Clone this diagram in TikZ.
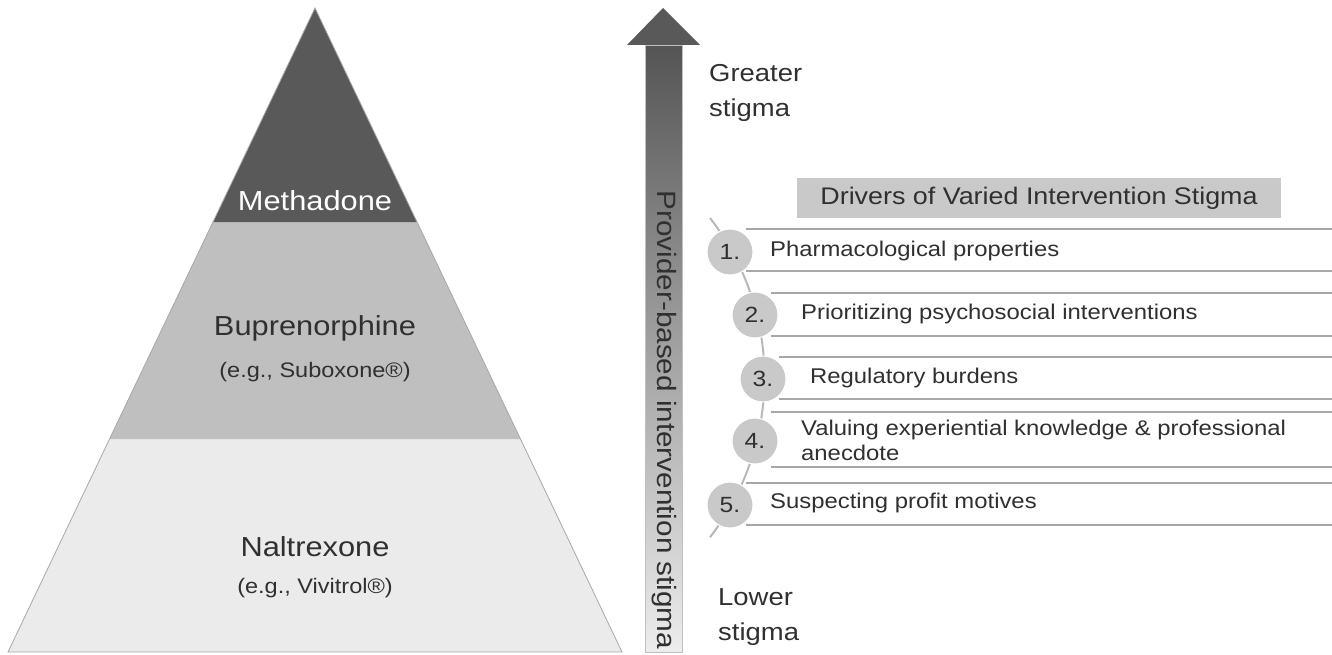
\documentclass[tikz,border=0pt]{standalone}
\usepackage{fontspec}
\setmainfont[FakeStretch=1.12]{Liberation Sans}
\usetikzlibrary{calc}
\definecolor{darkband}{HTML}{595959}
\definecolor{midband}{HTML}{BFBFBF}
\definecolor{lightband}{HTML}{EBEBEB}
\definecolor{txt}{HTML}{303030}
\definecolor{rowline}{HTML}{A8A8A8}
\definecolor{circfill}{HTML}{C9C9C9}
\definecolor{arcline}{HTML}{B8B8B8}
\tikzset{
  bigtxt/.style={font=\fontsize{27.5}{32}\selectfont, text=txt, inner sep=0pt},
  subtxt/.style={font=\fontsize{21}{25}\selectfont, text=txt, inner sep=0pt},
  itemtxt/.style={font=\fontsize{21.3}{25}\selectfont, text=txt, inner sep=0pt, anchor=west, align=left},
  sidetxt/.style={font=\fontsize{24.5}{35}\selectfont, text=txt, inner sep=0pt, anchor=west, align=left},
  numcirc/.style={circle, fill=circfill, draw=white, line width=1pt, minimum size=46pt, inner sep=0pt, font=\fontsize{22}{25}\selectfont, text=txt},
  rowedge/.style={draw=rowline, line width=1.3pt},
}
\begin{document}
\begin{tikzpicture}[x=1pt,y=-1pt]
\useasboundingbox (0,0) rectangle (1332,655);
% pyramid
\fill[lightband] (109.5,439) -- (520.5,439) -- (622,652) -- (8,652) -- cycle;
\fill[midband] (213,222) -- (417,222) -- (520.5,439) -- (109.5,439) -- cycle;
\fill[darkband] (315,8) -- (417,222) -- (213,222) -- cycle;
\draw[rowline, line width=0.8pt] (315,8) -- (622,652) -- (8,652) -- cycle;
\node[bigtxt, text=white] (meth) at (315,201) {Methadone};
\node[bigtxt] (bup) at (315,328) {Buprenorphine};
\node[subtxt] (bupsub) at (315,372) {(e.g., Suboxone®)};
\node[bigtxt] (nal) at (315,547) {Naltrexone};
\node[subtxt] (nalsub) at (315,588) {(e.g., Vivitrol®)};
% arrow
\shade[top color=darkband!95!black, bottom color=lightband!90!white] (645,45) rectangle (682,652);
\draw[midband, line width=0.6pt] (645,45) rectangle (682,652);
\fill[darkband] (663,8) -- (700,45) -- (627,45) -- cycle;
\node[font=\fontsize{26.5}{30}\selectfont, text=txt, rotate=-90, inner sep=0pt] (arrtxt) at (664,420) {Provider-based intervention stigma};
% side labels
\node[sidetxt] (greater) at (709,93) {Greater\\stigma};
\node[sidetxt] (lower) at (718,617) {Lower\\stigma};
% title
\node[fill=circfill, minimum width=484pt, minimum height=40pt, inner sep=0pt, font=\fontsize{24}{27}\selectfont, text=txt] (title) at (1039,198) {Drivers of Varied Intervention Stigma};
% rows
\foreach \cx/\top/\bot in {730/229/271, 755/293/336, 763/357/399, 755/412/467, 730/483/525}{
  \fill[white] (\cx,\top) rectangle (1345,\bot);
  \draw[rowedge] (\cx+16,\top) -- (1345,\top);
  \draw[rowedge] (\cx+16,\bot) -- (1345,\bot);
}
% arc
\coordinate (arcstart) at (710,218);
\draw[arcline, line width=2pt] (arcstart) arc[start angle=-37.7, end angle=37.7, radius=261] coordinate (arcend);
\node[numcirc] (c1) at (730,252) {1.};
\node[numcirc] (c2) at (755,315) {2.};
\node[numcirc] (c3) at (763,379) {3.};
\node[numcirc] (c4) at (755,441) {4.};
\node[numcirc] (c5) at (730,505) {5.};
\node[itemtxt] (i1) at (770,251) {Pharmacological properties};
\node[itemtxt] (i2) at (801,314) {Prioritizing psychosocial interventions};
\node[itemtxt] (i3) at (810,378) {Regulatory burdens};
\node[itemtxt] (i4) at (801,440) {Valuing experiential knowledge \& professional\\anecdote};
\node[itemtxt] (i5) at (770,503) {Suspecting profit motives};
\end{tikzpicture}
\end{document}
